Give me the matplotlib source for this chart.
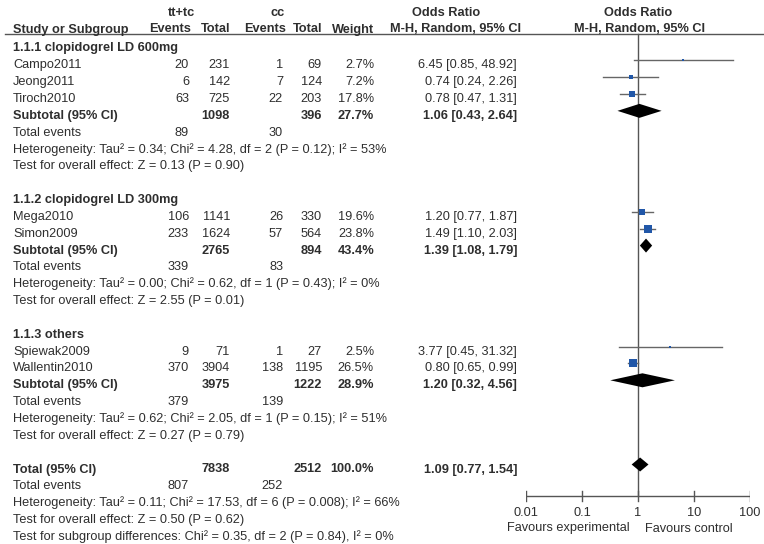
import matplotlib
matplotlib.use("Agg")
import matplotlib.pyplot as plt
import numpy as np

plt.rcParams['font.family'] = ['Liberation Sans', 'DejaVu Sans']

# ---------------- data ----------------
groups = ["1.1.1 clopidogrel LD 600mg", "1.1.2 clopidogrel LD 300mg", "1.1.3 others"]
studies = [
    ["Campo2011", "Jeong2011", "Tiroch2010"],
    ["Mega2010", "Simon2009"],
    ["Spiewak2009", "Wallentin2010"],
]
exp_events = [[20, 6, 63], [106, 233], [9, 370]]
exp_total = [[231, 142, 725], [1141, 1624], [71, 3904]]
ctl_events = [[1, 7, 22], [26, 57], [1, 138]]
ctl_total = [[69, 124, 203], [330, 564], [27, 1195]]
weights = [[2.7, 7.2, 17.8], [19.6, 23.8], [2.5, 26.5]]
or_est = [[6.45, 0.74, 0.78], [1.20, 1.49], [3.77, 0.80]]
or_lo = [[0.85, 0.24, 0.47], [0.77, 1.10], [0.45, 0.65]]
or_hi = [[48.92, 2.26, 1.31], [1.87, 2.03], [31.32, 0.99]]

sub_exp_total = [1098, 2765, 3975]
sub_ctl_total = [396, 894, 1222]
sub_weight = [27.7, 43.4, 28.9]
sub_est = [1.06, 1.39, 1.20]
sub_lo = [0.43, 1.08, 0.32]
sub_hi = [2.64, 1.79, 4.56]
sub_exp_events = [89, 339, 379]
sub_ctl_events = [30, 83, 139]
sub_het = [
    "Heterogeneity: Tau\u00b2 = 0.34; Chi\u00b2 = 4.28, df = 2 (P = 0.12); I\u00b2 = 53%",
    "Heterogeneity: Tau\u00b2 = 0.00; Chi\u00b2 = 0.62, df = 1 (P = 0.43); I\u00b2 = 0%",
    "Heterogeneity: Tau\u00b2 = 0.62; Chi\u00b2 = 2.05, df = 1 (P = 0.15); I\u00b2 = 51%",
]
sub_z = [
    "Test for overall effect: Z = 0.13 (P = 0.90)",
    "Test for overall effect: Z = 2.55 (P = 0.01)",
    "Test for overall effect: Z = 0.27 (P = 0.79)",
]

tot_exp_total, tot_ctl_total, tot_weight = 7838, 2512, 100.0
tot_est, tot_lo, tot_hi = 1.09, 0.77, 1.54
tot_exp_events, tot_ctl_events = 807, 252
tot_het = "Heterogeneity: Tau\u00b2 = 0.11; Chi\u00b2 = 17.53, df = 6 (P = 0.008); I\u00b2 = 66%"
tot_z = "Test for overall effect: Z = 0.50 (P = 0.62)"
subgroup_test = "Test for subgroup differences: Chi\u00b2 = 0.35, df = 2 (P = 0.84), I\u00b2 = 0%"

axis_ticks = [0.01, 0.1, 1, 10, 100]
axis_labels = ["0.01", "0.1", "1", "10", "100"]

# ---------------- layout ----------------
W, H = 764, 544
fig = plt.figure(figsize=(W / 100, H / 100), dpi=100)
ax = fig.add_axes([0, 0, 1, 1])
ax.set_xlim(0, W)
ax.set_ylim(H, 0)
ax.axis('off')

PX0, PX1 = 526, 750
axf = fig.add_axes([PX0 / W, 0, (PX1 - PX0) / W, 1])
axf.set_xscale('log')
axf.set_xlim(0.01, 100)
axf.set_ylim(H, 0)
axf.axis('off')
axf.patch.set_alpha(0)

TXT = '#2e2e2e'
FS = 9.2
BL = 4.5       # baseline offset from visual centre
MARK = -3.5    # marker offset from text centre
SQC = '#2157a8'
LINEC = '#666666'

X_NAME = 13
X_EV1, X_TOT1, X_EV2, X_TOT2, X_W, X_OR = 189, 230, 283, 322, 374, 517


def txt(x, y, s, ha='left', bold=False, size=FS):
    ax.text(x, y + BL, s, ha=ha, va='baseline', fontsize=size, color=TXT,
            fontweight='bold' if bold else 'normal')


def fmt_or(e, l, h):
    return f"{e:.2f} [{l:.2f}, {h:.2f}]"


# headers
txt(182, 12, "tt+tc", ha='center', bold=True)
txt(278, 12, "cc", ha='center', bold=True)
txt(446, 12, "Odds Ratio", ha='center', bold=True)
txt(638, 12, "Odds Ratio", ha='center', bold=True)
txt(X_NAME, 28, "Study or Subgroup", bold=True)
txt(191, 28, "Events", ha='right', bold=True)
txt(X_TOT1, 28, "Total", ha='right', bold=True)
txt(286, 28, "Events", ha='right', bold=True)
txt(X_TOT2, 28, "Total", ha='right', bold=True)
txt(X_W, 28, "Weight", ha='right', bold=True)
txt(455, 28, "M-H, Random, 95% CI", ha='center', bold=True)
txt(639, 28, "M-H, Random, 95% CI", ha='center', bold=True)
ax.plot([5, W], [33.5, 33.5], color='#555555', lw=1.0)

Y0, STEP = 47, 16.84
AXIS_Y = 496


def row_y(k):
    return Y0 + STEP * k


def diamond(y, e, l, h):
    axf.fill([l, e, h, e], [y, y - 7, y, y + 7], color='black', lw=0, zorder=4)


# vertical line at OR = 1
axf.plot([1, 1], [33.5, AXIS_Y], color='#555555', lw=1.0, zorder=1)

k = 0
for g in range(len(groups)):
    txt(X_NAME, row_y(k), groups[g], bold=True)
    k += 1
    for i, name in enumerate(studies[g]):
        y = row_y(k)
        txt(X_NAME, y, name)
        txt(X_EV1, y, str(exp_events[g][i]), ha='right')
        txt(X_TOT1, y, str(exp_total[g][i]), ha='right')
        txt(X_EV2, y, str(ctl_events[g][i]), ha='right')
        txt(X_TOT2, y, str(ctl_total[g][i]), ha='right')
        txt(X_W, y, f"{weights[g][i]:.1f}%", ha='right')
        txt(X_OR, y, fmt_or(or_est[g][i], or_lo[g][i], or_hi[g][i]), ha='right')
        ym = y + MARK
        axf.plot([or_lo[g][i], or_hi[g][i]], [ym, ym], color=LINEC, lw=1.0, zorder=2)
        side_px = 1.45 * np.sqrt(weights[g][i])
        axf.scatter([or_est[g][i]], [ym], marker='s', s=(side_px * 0.72) ** 2,
                    color=SQC, lw=0, zorder=3)
        k += 1
    y = row_y(k)
    txt(X_NAME, y, "Subtotal (95% CI)", bold=True)
    txt(X_TOT1, y, str(sub_exp_total[g]), ha='right', bold=True)
    txt(X_TOT2, y, str(sub_ctl_total[g]), ha='right', bold=True)
    txt(X_W, y, f"{sub_weight[g]:.1f}%", ha='right', bold=True)
    txt(X_OR, y, fmt_or(sub_est[g], sub_lo[g], sub_hi[g]), ha='right', bold=True)
    diamond(y + MARK, sub_est[g], sub_lo[g], sub_hi[g])
    k += 1
    y = row_y(k)
    txt(X_NAME, y, "Total events")
    txt(X_EV1, y, str(sub_exp_events[g]), ha='right')
    txt(X_EV2, y, str(sub_ctl_events[g]), ha='right')
    k += 1
    txt(X_NAME, row_y(k), sub_het[g])
    k += 1
    txt(X_NAME, row_y(k), sub_z[g])
    k += 2

# overall
y = row_y(k)
txt(X_NAME, y, "Total (95% CI)", bold=True)
txt(X_TOT1, y, str(tot_exp_total), ha='right', bold=True)
txt(X_TOT2, y, str(tot_ctl_total), ha='right', bold=True)
txt(X_W, y, f"{tot_weight:.1f}%", ha='right', bold=True)
txt(X_OR, y, fmt_or(tot_est, tot_lo, tot_hi), ha='right', bold=True)
diamond(y + MARK, tot_est, tot_lo, tot_hi)
k += 1
y = row_y(k)
txt(X_NAME, y, "Total events")
txt(X_EV1, y, str(tot_exp_events), ha='right')
txt(X_EV2, y, str(tot_ctl_events), ha='right')
k += 1
txt(X_NAME, row_y(k), tot_het)
k += 1
txt(X_NAME, row_y(k), tot_z)
k += 1
txt(X_NAME, row_y(k), subgroup_test)

# bottom axis
axf.plot([axis_ticks[0], axis_ticks[-1]], [AXIS_Y, AXIS_Y], color='#555555', lw=1.0)
for t, lab in zip(axis_ticks, axis_labels):
    axf.plot([t, t], [AXIS_Y - 5, AXIS_Y + 5], color='#555555', lw=1.0)
    axf.text(t, 512 + BL, lab, ha='center', va='baseline', fontsize=FS, color=TXT)
axf.text(0.72, 527 + BL, "Favours experimental", ha='right', va='baseline', fontsize=FS, color=TXT)
axf.text(1.35, 527 + BL, "Favours control", ha='left', va='baseline', fontsize=FS, color=TXT)

fig.savefig("out.png", dpi=100)
